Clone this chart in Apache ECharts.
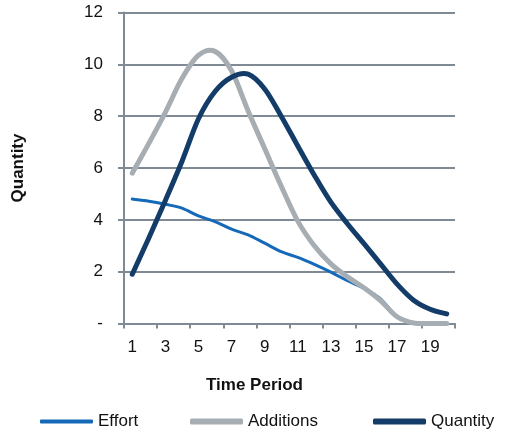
<!DOCTYPE html>
<html>
<head>
<meta charset="utf-8">
<script src="https://cdn.jsdelivr.net/npm/echarts@6/dist/echarts.min.js"></script>
<style>
  html, body { margin: 0; padding: 0; background: #ffffff; }
  #chart { width: 505px; height: 436px; }
</style>
</head>
<body>
<div id="chart"></div>
<script>
// Time periods on the horizontal axis
const periods = ['1','2','3','4','5','6','7','8','9','10','11','12','13','14','15','16','17','18','19','20'];

// Series values per period
const effort    = [4.8, 4.72, 4.6, 4.45, 4.15, 3.93, 3.64, 3.42, 3.1, 2.77, 2.55, 2.28, 1.98, 1.65, 1.36, 0.95, 0.26, 0.02, 0, 0];
const additions = [5.8, 6.95, 8.15, 9.45, 10.35, 10.5, 9.75, 8.2, 6.75, 5.3, 3.95, 3.0, 2.3, 1.8, 1.38, 0.88, 0.26, 0.02, 0, 0];
const quantity  = [1.9, 3.3, 4.75, 6.25, 7.9, 8.95, 9.5, 9.62, 9.05, 8.0, 6.85, 5.72, 4.68, 3.85, 3.08, 2.3, 1.52, 0.9, 0.55, 0.37];

const seriesNames = ['Effort', 'Additions', 'Quantity'];
const colors = ['#1469b8', '#a7aeb3', '#133d68'];
const widths = [3, 5, 5];

const font = '"Liberation Sans", Arial, sans-serif';
const gridColor = '#808a95';
const textColor = '#111111';

const chart = echarts.init(document.getElementById('chart'), null, { renderer: 'canvas' });

// Smooth curve through the points (cardinal spline, Bezier segments),
// positions come from the chart's own axes via api.coord.
function smoothPath(api, values) {
  const pts = values.map((v, i) => api.coord([i, v]));
  let d = 'M' + pts[0][0] + ',' + pts[0][1];
  for (let i = 0; i < pts.length - 1; i++) {
    const p0 = pts[i - 1] || pts[i];
    const p1 = pts[i];
    const p2 = pts[i + 1];
    const p3 = pts[i + 2] || pts[i + 1];
    const c1x = p1[0] + (p2[0] - p0[0]) / 6;
    const c1y = p1[1] + (p2[1] - p0[1]) / 6;
    const c2x = p2[0] - (p3[0] - p1[0]) / 6;
    const c2y = p2[1] - (p3[1] - p1[1]) / 6;
    d += ' C' + c1x + ',' + c1y + ' ' + c2x + ',' + c2y + ' ' + p2[0] + ',' + p2[1];
  }
  return d;
}

function curveSeries(idx, values) {
  return {
    name: seriesNames[idx],
    type: 'custom',
    coordinateSystem: 'cartesian2d',
    data: values.map((v, i) => [i, v]),
    encode: { x: 0, y: 1 },
    itemStyle: { color: colors[idx] },
    z: 2 + idx,
    renderItem: function (params, api) {
      if (params.dataIndex !== 0) return null;
      return {
        type: 'path',
        shape: { pathData: smoothPath(api, values) },
        style: {
          fill: 'none',
          stroke: colors[idx],
          lineWidth: widths[idx],
          lineCap: 'round',
          lineJoin: 'round'
        }
      };
    }
  };
}

// One legend block per series so each entry sits at its own spot
function legendAt(name, left, h) {
  return {
    data: [name],
    left: left,
    top: 408,
    icon: 'roundRect',
    itemWidth: 53,
    itemHeight: h,
    itemGap: 0,
    textStyle: { fontFamily: font, fontSize: 17, color: textColor },
    selectedMode: false
  };
}

chart.setOption({
  animation: false,
  color: colors,
  grid: { left: 124, right: 50, top: 12.5, bottom: 112.5, containLabel: false },
  legend: [
    legendAt(seriesNames[0], 35, 4),
    legendAt(seriesNames[1], 185, 6),
    legendAt(seriesNames[2], 368, 6)
  ],
  xAxis: {
    type: 'category',
    data: periods,
    boundaryGap: true,
    name: 'Time Period',
    nameLocation: 'middle',
    nameGap: 53,
    nameTextStyle: { fontFamily: font, fontSize: 17, fontWeight: 'bold', color: textColor, padding: [0, 70, 0, 0] },
    axisLine: { show: true, lineStyle: { color: gridColor, width: 2 } },
    axisTick: { show: true, interval: 1, length: 5, lineStyle: { color: gridColor, width: 2 } },
    axisLabel: { interval: 1, margin: 15, fontFamily: font, fontSize: 17, color: textColor },
    splitLine: { show: false }
  },
  yAxis: {
    type: 'value',
    min: 0,
    max: 12,
    interval: 2,
    name: 'Quantity',
    nameLocation: 'middle',
    nameGap: 97,
    nameRotate: 90,
    nameTextStyle: { fontFamily: font, fontSize: 17, fontWeight: 'bold', color: textColor },
    axisLine: { show: true, lineStyle: { color: gridColor, width: 2 } },
    axisTick: { show: true, length: 6, lineStyle: { color: gridColor, width: 2 } },
    axisLabel: {
      margin: 21,
      fontFamily: font,
      fontSize: 17,
      color: textColor,
      formatter: v => (v === 0 ? '-' : String(v))
    },
    splitLine: { show: true, lineStyle: { color: gridColor, width: 2 } }
  },
  series: [
    curveSeries(0, effort),
    curveSeries(1, additions),
    curveSeries(2, quantity)
  ]
});
</script>
</body>
</html>
